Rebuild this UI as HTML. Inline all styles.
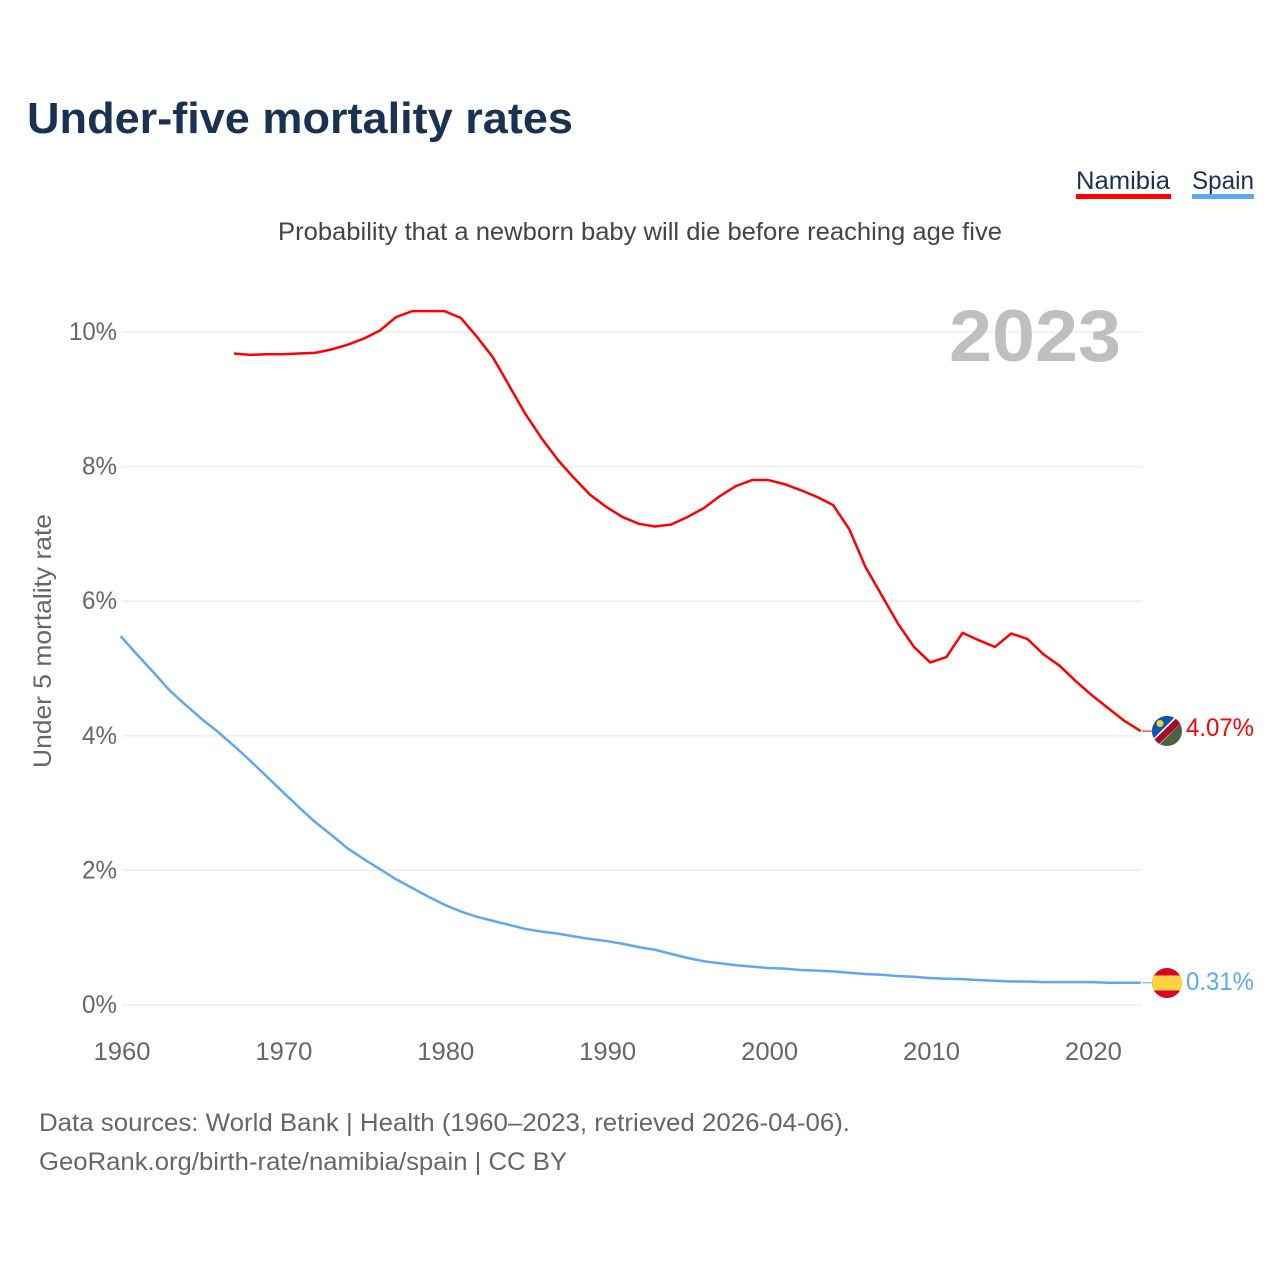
<!DOCTYPE html>
<html lang="en">
<head>
<meta charset="utf-8">
<title>Under-five mortality rates</title>
<style>
html,body{margin:0;padding:0;background:#fff;}
svg{display:block;font-family:"Liberation Sans",sans-serif;}
</style>
</head>
<body>
<svg id="chart" xmlns="http://www.w3.org/2000/svg" width="1280" height="1280" viewBox="0 0 1280 1280">
  <defs>
    <clipPath id="clip-nam"><circle cx="1167" cy="731" r="15"/></clipPath>
    <clipPath id="clip-esp"><circle cx="1167" cy="983" r="15"/></clipPath>
  </defs>
  <rect width="1280" height="1280" fill="#fff"/>
  <text x="27" y="133" font-size="44" font-weight="700" fill="#1a3251" textLength="546" lengthAdjust="spacingAndGlyphs">Under-five mortality rates</text>
  <g>
    <text x="1076" y="189" font-size="25" fill="#1a3251" textLength="94" lengthAdjust="spacingAndGlyphs">Namibia</text>
    <rect x="1076" y="194" width="95" height="5" fill="#ff0000"/>
  </g>
  <g>
    <text x="1192" y="189" font-size="25" fill="#1a3251" textLength="62" lengthAdjust="spacingAndGlyphs">Spain</text>
    <rect x="1192" y="194" width="62" height="5" fill="#5fa8ee"/>
  </g>
  <text x="278" y="240" font-size="25" fill="#444" textLength="724" lengthAdjust="spacingAndGlyphs">Probability that a newborn baby will die before reaching age five</text>
  <g id="grid"></g>
  <text x="949" y="361" font-size="73" font-weight="700" fill="#bfbfbf" textLength="172" lengthAdjust="spacingAndGlyphs">2023</text>
  <g id="yticks"></g>
  <g id="xticks"></g>
  <text transform="translate(51,768) rotate(-90)" font-size="25" fill="#666" textLength="254" lengthAdjust="spacingAndGlyphs">Under 5 mortality rate</text>
  <path id="line-namibia" fill="none" stroke="#ff0000" stroke-width="2.5" stroke-linejoin="round"/>
  <path id="line-spain" fill="none" stroke="#5fa8ee" stroke-width="2.5" stroke-linejoin="round"/>
  <line id="conn-namibia" x1="1142" x2="1152" stroke="#ff0000" stroke-width="1"/>
  <line id="conn-spain" x1="1142" x2="1152" stroke="#5fa8ee" stroke-width="1"/>
  <g clip-path="url(#clip-nam)">
    <rect x="1152" y="716" width="30" height="30" fill="#4f6142"/>
    <polygon points="1152,716 1176,716 1152,742" fill="#0a55b4"/>
    <polygon points="1176,716 1182,716 1182,722 1158,746 1152,746 1152,740" fill="#fff"/>
    <polygon points="1177.5,717 1182,722 1157,746 1153,741" fill="#a50b2a"/>
    <circle cx="1160" cy="723.5" r="3.5" fill="#ffce3a"/>
  </g>
  <g clip-path="url(#clip-esp)">
    <rect x="1152" y="968" width="30" height="30" fill="#d80027"/>
    <rect x="1152" y="975.5" width="30" height="15" fill="#ffd43f"/>
  </g>
  <text x="1186" y="736" font-size="25" fill="#ff0000" textLength="68" lengthAdjust="spacingAndGlyphs">4.07%</text>
  <text x="1186" y="990" font-size="25" fill="#5fa8ee" textLength="68" lengthAdjust="spacingAndGlyphs">0.31%</text>
  <text x="39" y="1131" font-size="25" fill="#666" textLength="811" lengthAdjust="spacingAndGlyphs">Data sources: World Bank | Health (1960–2023, retrieved 2026-04-06).</text>
  <text x="39" y="1170" font-size="25" fill="#666" textLength="528" lengthAdjust="spacingAndGlyphs">GeoRank.org/birth-rate/namibia/spain | CC BY</text>
</svg>
<script>
const yTicks = [0, 2, 4, 6, 8, 10];
const xTicks = [1960, 1970, 1980, 1990, 2000, 2010, 2020];
const namibiaStartYear = 1967;
const spainStartYear = 1960;
const namibiaValues = [9.68,9.66,9.67,9.67,9.68,9.69,9.74,9.81,9.90,10.02,10.22,10.31,10.31,10.31,10.21,9.93,9.62,9.20,8.78,8.42,8.10,7.83,7.58,7.40,7.25,7.15,7.11,7.14,7.25,7.38,7.56,7.71,7.80,7.80,7.74,7.65,7.55,7.43,7.07,6.51,6.09,5.67,5.32,5.09,5.17,5.53,5.42,5.32,5.52,5.44,5.21,5.04,4.81,4.60,4.41,4.22,4.07];
const spainValues = [5.48,5.21,4.95,4.68,4.46,4.25,4.06,3.85,3.63,3.40,3.17,2.94,2.72,2.53,2.33,2.17,2.02,1.87,1.74,1.61,1.49,1.39,1.31,1.25,1.19,1.13,1.09,1.06,1.02,0.98,0.95,0.91,0.86,0.82,0.76,0.70,0.65,0.62,0.59,0.57,0.55,0.54,0.52,0.51,0.50,0.48,0.46,0.45,0.43,0.42,0.40,0.39,0.385,0.37,0.36,0.35,0.35,0.34,0.34,0.34,0.34,0.33,0.33,0.33];

const NS = 'http://www.w3.org/2000/svg';
function xScale(year) { return 120.7 + (year - 1960) * 16.19; }
function yScale(v) { return 1005 - v * 67.3; }
function linePath(values, startYear) {
  return values.map(function (v, i) {
    return (i ? 'L' : 'M') + xScale(startYear + i).toFixed(2) + ' ' + yScale(v).toFixed(2);
  }).join('');
}

const gridGroup = document.getElementById('grid');
const yGroup = document.getElementById('yticks');
const xGroup = document.getElementById('xticks');

yTicks.forEach(function (t) {
  const gl = document.createElementNS(NS, 'line');
  
  
  gl.setAttribute('x1', 122);
  gl.setAttribute('x2', 1142);
  gl.setAttribute('y1', yScale(t));
  gl.setAttribute('y2', yScale(t));
  gl.setAttribute('stroke', '#eeeeee');
  gl.setAttribute('stroke-width', '1.5');
  gridGroup.appendChild(gl);

  const lbl = document.createElementNS(NS, 'text');
  
  
  lbl.setAttribute('x', 117);
  lbl.setAttribute('y', yScale(t) + 8);
  lbl.setAttribute('text-anchor', 'end');
  lbl.setAttribute('font-size', '25');
  lbl.setAttribute('fill', '#666');
  lbl.setAttribute('textLength', t >= 10 ? 48 : 35);
  lbl.setAttribute('lengthAdjust', 'spacingAndGlyphs');
  lbl.textContent = t + '%';
  yGroup.appendChild(lbl);
});

xTicks.forEach(function (t) {
  const lbl = document.createElementNS(NS, 'text');
  
  
  lbl.setAttribute('x', xScale(t) + 1.3);
  lbl.setAttribute('y', 1060);
  lbl.setAttribute('text-anchor', 'middle');
  lbl.setAttribute('font-size', '25');
  lbl.setAttribute('fill', '#666');
  lbl.setAttribute('textLength', 57);
  lbl.setAttribute('lengthAdjust', 'spacingAndGlyphs');
  lbl.textContent = t;
  xGroup.appendChild(lbl);
});

document.getElementById('line-namibia').setAttribute('d', linePath(namibiaValues, namibiaStartYear));
document.getElementById('line-spain').setAttribute('d', linePath(spainValues, spainStartYear));

const namLast = yScale(namibiaValues[namibiaValues.length - 1]);
const espLast = yScale(spainValues[spainValues.length - 1]);
const cn = document.getElementById('conn-namibia');
cn.setAttribute('y1', namLast);
cn.setAttribute('y2', namLast);
const ce = document.getElementById('conn-spain');
ce.setAttribute('y1', espLast);
ce.setAttribute('y2', espLast);
</script>
</body>
</html>
